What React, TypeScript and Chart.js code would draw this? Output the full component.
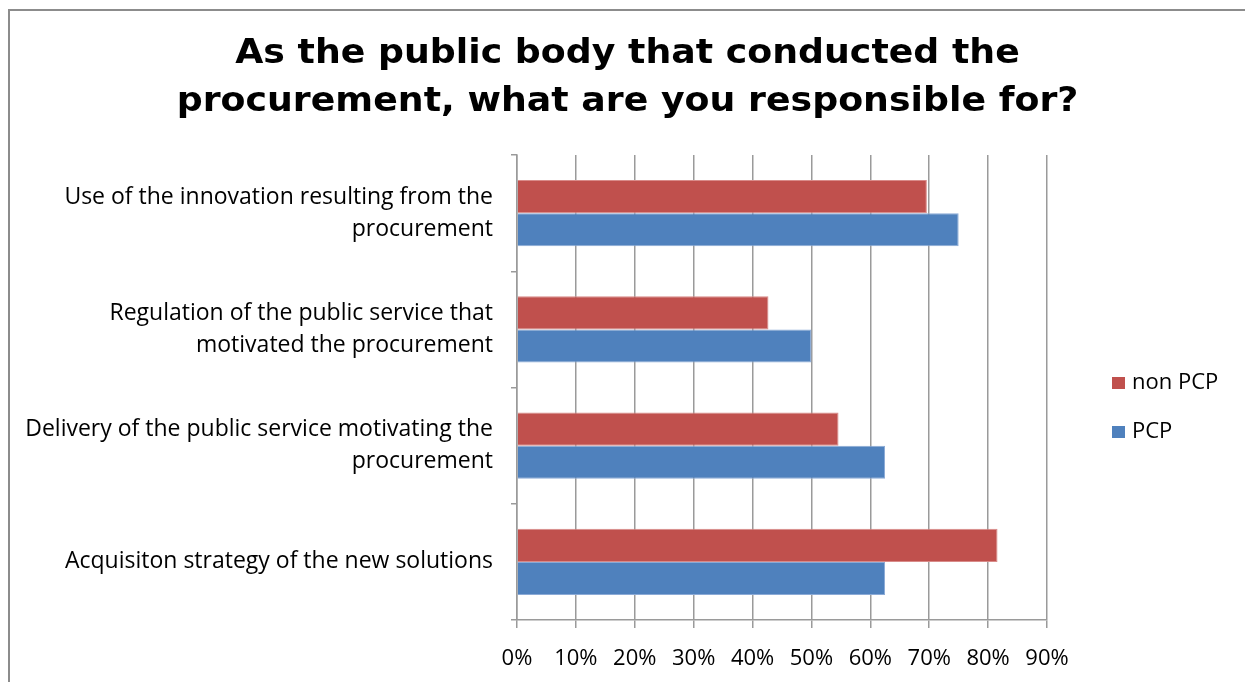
import { useEffect, useRef } from "react";
import { Chart, registerables } from "chart.js";

Chart.register(...registerables);

// Survey answers, share of respondents (%)
const categories: (string | string[])[] = [
  ["Use of the innovation resulting from the", "procurement"],
  ["Regulation of the public service that", "motivated the procurement"],
  ["Delivery of the public service motivating the", "procurement"],
  "Acquisiton strategy of the new solutions",
];
const seriesNames = ["non PCP", "PCP"];
const nonPcpValues = [69.6, 42.7, 54.6, 81.6];
const pcpValues = [75, 50, 62.5, 62.5];
const xMax = 90;
const xStep = 10;
const titleLines = [
  "As the public body that conducted the",
  "procurement, what are you responsible for?",
];

const RED = "#C0504D";
const BLUE = "#4F81BD";
const GRID = "#9a9a9a";
const LABEL_FONT = "'Open Sans', Lato, sans-serif";

// Wide bold two-line heading centred over the whole canvas
const wideTitle = {
  id: "wideTitle",
  afterDraw(chart: any) {
    const { ctx } = chart;
    ctx.save();
    ctx.font = "bold 33px 'DejaVu Sans', Verdana, sans-serif";
    ctx.fillStyle = "#000";
    ctx.textAlign = "center";
    ctx.textBaseline = "middle";
    titleLines.forEach((line, i) => {
      ctx.save();
      ctx.translate(chart.width / 2, 43 + i * 48);
      ctx.scale(1.1, 1);
      ctx.fillText(line, 0, 0);
      ctx.restore();
    });
    ctx.restore();
  },
};

// Legend drawn to the right of the plot, square marker + label per series
const sideLegend = {
  id: "sideLegend",
  afterDraw(chart: any) {
    const { ctx, chartArea } = chart;
    ctx.save();
    ctx.font = `22px ${LABEL_FONT}`;
    ctx.textBaseline = "middle";
    ctx.textAlign = "left";
    chart.data.datasets.forEach((ds: any, i: number) => {
      const cy = chartArea.top + 228 + i * 49;
      const x = chartArea.right + 65;
      ctx.fillStyle = ds.backgroundColor;
      ctx.fillRect(x, cy - 6, 13, 12);
      ctx.fillStyle = "#000";
      ctx.fillText(ds.label, x + 20, cy);
    });
    ctx.restore();
  },
};

export default function App() {
  const canvasRef = useRef<HTMLCanvasElement | null>(null);

  useEffect(() => {
    if (!canvasRef.current) return;
    const chart = new Chart(canvasRef.current, {
      type: "bar",
      data: {
        labels: categories,
        datasets: [
          {
            label: seriesNames[0],
            data: nonPcpValues,
            backgroundColor: RED,
            borderColor: "#D98B89",
            borderWidth: 1,
            categoryPercentage: 0.57,
            barPercentage: 1,
          },
          {
            label: seriesNames[1],
            data: pcpValues,
            backgroundColor: BLUE,
            borderColor: "#8BAAD6",
            borderWidth: 1,
            categoryPercentage: 0.57,
            barPercentage: 1,
          },
        ],
      },
      plugins: [wideTitle, sideLegend],
      options: {
        indexAxis: "y",
        animation: false,
        responsive: true,
        maintainAspectRatio: false,
        layout: { padding: { left: 0, right: 198, top: 144, bottom: 0 } },
        plugins: {
          legend: { display: false },
          tooltip: { enabled: false },
          title: { display: false },
        },
        scales: {
          x: {
            min: 0,
            max: xMax,
            ticks: {
              stepSize: xStep,
              color: "#000",
              font: { family: LABEL_FONT, size: 22 },
              padding: 18,
              callback: (v: any) => `${v}%`,
            },
            grid: {
              color: GRID,
              lineWidth: 1.5,
              drawTicks: true,
              tickLength: 8,
            },
            border: { display: true, color: GRID, width: 1.5 },
            afterFit: (s: any) => {
              s.height = 62;
            },
          },
          y: {
            ticks: {
              color: "#000",
              font: { family: LABEL_FONT, size: 23, lineHeight: "32px" },
              padding: 18,
            },
            grid: {
              offset: true,
              drawOnChartArea: false,
              drawTicks: true,
              tickLength: 6,
              color: GRID,
              lineWidth: 1.5,
            },
            border: { display: true, color: GRID, width: 1.5 },
            afterFit: (s: any) => {
              s.width = 507;
            },
          },
        },
      },
    } as any);
    return () => chart.destroy();
  }, []);

  return (
    <>
      <div
        style={{
          position: "fixed",
          left: 8,
          top: 9,
          width: 1300,
          height: 720,
          border: "2px solid #8c8c8c",
          background: "#fff",
          boxSizing: "border-box",
        }}
      />
      <div
        style={{
          position: "fixed",
          left: 10,
          top: 11,
          width: 1235,
          height: 671,
        }}
      >
        <canvas ref={canvasRef} />
      </div>
    </>
  );
}
